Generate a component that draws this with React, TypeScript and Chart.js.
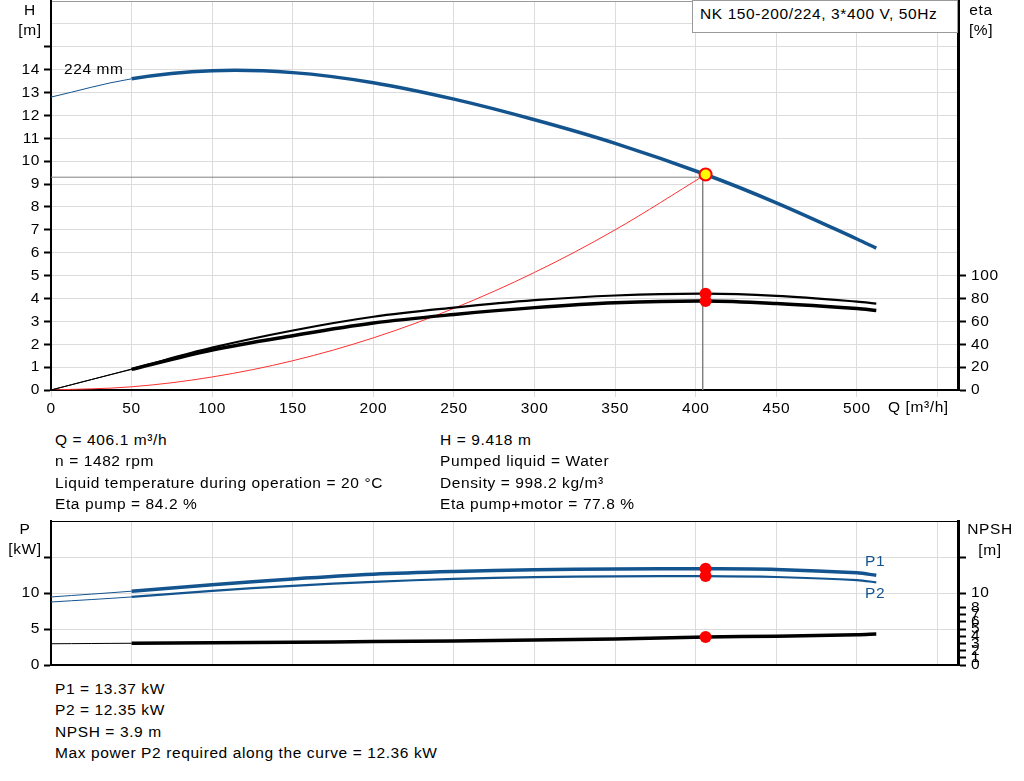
import React, { useEffect, useRef } from 'react';
import { Chart, registerables } from 'chart.js';

Chart.register(...registerables);

const FONT_FAMILY = "'Liberation Sans', Arial, sans-serif";
const BLUE = '#13548f';
const GRID = '#dcdcdc';

// ---- ticks ----
const qTicks = [0, 50, 100, 150, 200, 250, 300, 350, 400, 450, 500, 550];
const hTicks = [0, 1, 2, 3, 4, 5, 6, 7, 8, 9, 10, 11, 12, 13, 14, 15, 16, 17];
const etaTicks = [0, 20, 40, 60, 80, 100];
const pTicks = [0, 5, 10, 15, 20];
const npshTicks = [0, 1, 2, 3, 4, 5, 6, 7, 8, 10, 15];

// ---- data ----
const headQ = [0, 50, 100, 150, 200, 250, 300, 350, 406.1, 450, 500, 512];
const headH = [12.8, 13.6, 13.95, 13.87, 13.43, 12.71, 11.81, 10.78, 9.418, 8.18, 6.6, 6.2];

const etaQ = [0, 50, 100, 150, 200, 250, 300, 350, 406.1, 450, 500, 512];
const etaPump = [0, 18.3, 37, 52, 64, 72, 78.5, 82.6, 84.2, 82.2, 77.3, 75.5];
const etaTotal = [0, 18.0, 35, 47.5, 58.5, 66, 72, 76.2, 77.8, 75.6, 71.2, 69.4];

const sysQ = [0, 50, 100, 150, 200, 250, 300, 350, 406.1];
const sysH = [0, 0.14, 0.57, 1.28, 2.28, 3.57, 5.14, 7.0, 9.418];

const powerQ = [0, 50, 100, 150, 200, 250, 300, 350, 406.1, 450, 500, 512];
const p1Values = [9.45, 10.25, 11.15, 11.95, 12.6, 12.98, 13.22, 13.35, 13.37, 13.28, 12.8, 12.45];
const p2Values = [8.75, 9.45, 10.3, 11.0, 11.55, 11.95, 12.2, 12.32, 12.35, 12.22, 11.8, 11.47];
const npshValues = [2.95, 3.02, 3.08, 3.15, 3.25, 3.35, 3.47, 3.6, 3.88, 4.0, 4.2, 4.3];

const dutyQ = 406.1;
const dutyH = 9.418;
const dutyEtaPump = 84.2;
const dutyEtaTotal = 77.8;
const dutyP1 = 13.37;
const dutyP2 = 12.35;
const dutyNpsh = 3.9;
const crossQ = 404.3;
const crossH = 9.3;

const Q_MAX = 562.7;
const TENSION = 0.35;

const zip = (xs: number[], ys: number[]) => xs.map((x, i) => ({ x, y: ys[i] }));

const tickFont = { family: FONT_FAMILY, size: 15.5 };

const thinUntil50 = (thick: number) => ({
  borderWidth: (ctx: any) => (ctx.p0.parsed.x < 49 ? 1 : thick),
});

const fitTo = (prop: 'width' | 'height', size: number) => (s: any) => {
  s[prop] = size;
  s.paddingTop = 0;
  s.paddingBottom = 0;
  s.paddingLeft = 0;
  s.paddingRight = 0;
};

const curve = (extra: any) => ({
  tension: TENSION,
  pointRadius: 0,
  ...extra,
});

function topConfig(): any {
  return {
    type: 'line',
    data: {
      datasets: [
        {
          data: [{ x: dutyQ, y: dutyH }],
          yAxisID: 'y',
          showLine: false,
          pointRadius: 6,
          pointBackgroundColor: '#ffff00',
          pointBorderColor: '#ff0000',
          pointBorderWidth: 2,
          order: 0,
        },
        {
          data: [
            { x: dutyQ, y: dutyEtaPump },
            { x: dutyQ, y: dutyEtaTotal },
          ],
          yAxisID: 'eta',
          showLine: false,
          pointRadius: 6,
          pointBackgroundColor: '#ff0000',
          pointBorderColor: '#ff0000',
          pointBorderWidth: 0,
          order: 1,
        },
        curve({
          data: zip(headQ, headH),
          yAxisID: 'y',
          borderColor: BLUE,
          borderWidth: 3.5,
          segment: thinUntil50(3.5),
          order: 2,
        }),
        curve({
          data: zip(etaQ, etaPump),
          yAxisID: 'eta',
          borderColor: '#000',
          borderWidth: 2.2,
          segment: thinUntil50(2.2),
          order: 3,
        }),
        curve({
          data: zip(etaQ, etaTotal),
          yAxisID: 'eta',
          borderColor: '#000',
          borderWidth: 3.5,
          segment: thinUntil50(3.5),
          order: 4,
        }),
        curve({
          data: zip(sysQ, sysH),
          yAxisID: 'y',
          borderColor: '#ff3030',
          borderWidth: 1,
          order: 5,
        }),
        {
          data: [
            { x: 0, y: crossH },
            { x: crossQ, y: crossH },
            { x: crossQ, y: 0 },
          ],
          yAxisID: 'y',
          borderColor: '#808080',
          borderWidth: 1,
          tension: 0,
          pointRadius: 0,
          order: 6,
        },
      ],
    },
    options: {
      responsive: false,
      animation: false,
      events: [],
      layout: { autoPadding: false, padding: { top: 1, left: 0, right: 0, bottom: 0 } },
      plugins: { legend: { display: false }, tooltip: { enabled: false } },
      scales: {
        x: {
          type: 'linear',
          min: 0,
          max: Q_MAX,
          afterBuildTicks: (s: any) => {
            s.ticks = qTicks.map((v) => ({ value: v }));
          },
          afterFit: fitTo('height', 41),
          ticks: {
            autoSkip: false,
            maxRotation: 0,
            font: tickFont,
            color: '#000',
            padding: 2,
            callback: (v: any) => (v <= 500 ? String(v) : ''),
          },
          grid: { color: GRID, lineWidth: 1, drawTicks: true, tickLength: 7, tickColor: GRID },
          border: { color: '#000', width: 2 },
        },
        y: {
          type: 'linear',
          position: 'left',
          min: 0,
          max: 17,
          afterBuildTicks: (s: any) => {
            s.ticks = hTicks.map((v) => ({ value: v }));
          },
          afterFit: fitTo('width', 51),
          ticks: {
            autoSkip: false,
            font: tickFont,
            color: '#000',
            padding: 4,
            callback: (v: any) => (v <= 14 ? String(v) : ''),
          },
          grid: {
            color: (ctx: any) => (ctx.tick && ctx.tick.value === 17 ? '#9a9a9a' : GRID),
            lineWidth: 1,
            drawTicks: true,
            tickLength: 7,
            tickColor: (ctx: any) => (ctx.tick && ctx.tick.value > 15 ? 'rgba(0,0,0,0)' : '#000'),
            tickWidth: 2,
          },
          border: { color: '#000', width: 2 },
        },
        eta: {
          type: 'linear',
          position: 'right',
          min: 0,
          max: 340,
          afterBuildTicks: (s: any) => {
            s.ticks = etaTicks.map((v) => ({ value: v }));
          },
          afterFit: fitTo('width', 66),
          ticks: { autoSkip: false, font: tickFont, color: '#000', padding: 5 },
          grid: { drawOnChartArea: false, drawTicks: true, tickLength: 8, tickColor: '#000', tickWidth: 2 },
          border: { color: '#000', width: 3 },
        },
      },
    },
  };
}

function bottomConfig(): any {
  return {
    type: 'line',
    data: {
      datasets: [
        {
          data: [
            { x: dutyQ, y: dutyP1 },
            { x: dutyQ, y: dutyP2 },
          ],
          yAxisID: 'y',
          showLine: false,
          pointRadius: 6,
          pointBackgroundColor: '#ff0000',
          pointBorderWidth: 0,
          order: 0,
        },
        {
          data: [{ x: dutyQ, y: dutyNpsh }],
          yAxisID: 'npsh',
          showLine: false,
          pointRadius: 6,
          pointBackgroundColor: '#ff0000',
          pointBorderWidth: 0,
          order: 1,
        },
        curve({
          data: zip(powerQ, p1Values),
          yAxisID: 'y',
          borderColor: BLUE,
          borderWidth: 3.5,
          segment: thinUntil50(3.5),
          order: 2,
        }),
        curve({
          data: zip(powerQ, p2Values),
          yAxisID: 'y',
          borderColor: BLUE,
          borderWidth: 2.2,
          segment: thinUntil50(2.2),
          order: 3,
        }),
        curve({
          data: zip(powerQ, npshValues),
          yAxisID: 'npsh',
          borderColor: '#000',
          borderWidth: 3.5,
          segment: thinUntil50(3.5),
          order: 4,
        }),
      ],
    },
    options: {
      responsive: false,
      animation: false,
      events: [],
      layout: { autoPadding: false, padding: { top: 21, left: 0, right: 0, bottom: 0 } },
      plugins: { legend: { display: false }, tooltip: { enabled: false } },
      scales: {
        x: {
          type: 'linear',
          min: 0,
          max: Q_MAX,
          afterBuildTicks: (s: any) => {
            s.ticks = qTicks.map((v) => ({ value: v }));
          },
          afterFit: fitTo('height', 15),
          ticks: { display: false },
          grid: { color: GRID, lineWidth: 1, drawTicks: false },
          border: { color: '#000', width: 2 },
        },
        y: {
          type: 'linear',
          position: 'left',
          min: 0,
          max: 20,
          afterBuildTicks: (s: any) => {
            s.ticks = pTicks.map((v) => ({ value: v }));
          },
          afterFit: fitTo('width', 51),
          ticks: {
            autoSkip: false,
            font: tickFont,
            color: '#000',
            padding: 4,
            callback: (v: any) => (v <= 10 ? String(v) : ''),
          },
          grid: {
            color: (ctx: any) => (ctx.tick && ctx.tick.value === 20 ? '#000' : GRID),
            lineWidth: 1,
            drawTicks: true,
            tickLength: 7,
            tickColor: (ctx: any) => (ctx.tick && ctx.tick.value > 15 ? 'rgba(0,0,0,0)' : '#000'),
            tickWidth: 2,
          },
          border: { color: '#000', width: 2 },
        },
        npsh: {
          type: 'linear',
          position: 'right',
          min: 0,
          max: 20,
          afterBuildTicks: (s: any) => {
            s.ticks = npshTicks.map((v) => ({ value: v }));
          },
          afterFit: fitTo('width', 66),
          ticks: {
            autoSkip: false,
            font: tickFont,
            color: '#000',
            padding: 5,
            callback: (v: any) => (v <= 10 ? String(v) : ''),
          },
          grid: { drawOnChartArea: false, drawTicks: true, tickLength: 8, tickColor: '#000', tickWidth: 2 },
          border: { color: '#000', width: 3 },
        },
      },
    },
  };
}

const Label = ({
  x,
  y,
  children,
  color = '#000',
  center = false,
}: {
  x: number;
  y: number;
  children: any;
  color?: string;
  center?: boolean;
}) => (
  <div
    style={{
      position: 'absolute',
      left: x,
      top: y - 9,
      lineHeight: '18px',
      whiteSpace: 'nowrap',
      color,
      transform: center ? 'translateX(-50%)' : undefined,
    }}
  >
    {children}
  </div>
);

const infoLeft = [
  'Q = 406.1 m³/h',
  'n = 1482 rpm',
  'Liquid temperature during operation = 20 °C',
  'Eta pump = 84.2 %',
];
const infoRight = ['H = 9.418 m', 'Pumped liquid = Water', 'Density = 998.2 kg/m³', 'Eta pump+motor = 77.8 %'];
const infoBottom = [
  'P1 = 13.37 kW',
  'P2 = 12.35 kW',
  'NPSH = 3.9 m',
  'Max power P2 required along the curve = 12.36 kW',
];
const infoRowsTop = [440, 461, 483, 504];
const infoRowsBottom = [689, 710, 732, 753];

export default function App() {
  const topRef = useRef<HTMLCanvasElement>(null);
  const botRef = useRef<HTMLCanvasElement>(null);

  useEffect(() => {
    const c1 = new Chart(topRef.current as HTMLCanvasElement, topConfig());
    const c2 = new Chart(botRef.current as HTMLCanvasElement, bottomConfig());
    return () => {
      c1.destroy();
      c2.destroy();
    };
  }, []);

  return (
    <div
      style={{
        position: 'absolute',
        left: 0,
        top: 0,
        width: 1024,
        height: 781,
        background: '#fff',
        fontFamily: FONT_FAMILY,
        fontSize: 15.5,
        letterSpacing: '0.6px',
        color: '#000',
        overflow: 'hidden',
      }}
    >
      <canvas
        ref={topRef}
        width={1024}
        height={431}
        style={{ position: 'absolute', left: 0, top: 0, width: 1024, height: 431 }}
      />
      <canvas
        ref={botRef}
        width={1024}
        height={180}
        style={{ position: 'absolute', left: 0, top: 500, width: 1024, height: 180 }}
      />

      {/* top chart labels */}
      <Label x={30} y={10} center>H</Label>
      <Label x={30} y={30} center>[m]</Label>
      <Label x={981} y={10} center>eta</Label>
      <Label x={981} y={30} center>[%]</Label>
      <Label x={64} y={69}>224 mm</Label>
      <Label x={888} y={407}>Q [m³/h]</Label>
      <div
        style={{
          position: 'absolute',
          left: 692,
          top: 0,
          width: 266,
          height: 33,
          boxSizing: 'border-box',
          border: '1px solid #9a9a9a',
          background: '#fff',
          paddingLeft: 7,
          paddingTop: 4,
          lineHeight: '18px',
          whiteSpace: 'nowrap',
        }}
      >
        NK 150-200/224, 3*400 V, 50Hz
      </div>

      {infoLeft.map((t, i) => (
        <Label key={'l' + i} x={55} y={infoRowsTop[i]}>
          {t}
        </Label>
      ))}
      {infoRight.map((t, i) => (
        <Label key={'r' + i} x={440} y={infoRowsTop[i]}>
          {t}
        </Label>
      ))}

      {/* bottom chart labels */}
      <Label x={25} y={529} center>P</Label>
      <Label x={25} y={549} center>[kW]</Label>
      <Label x={990} y={529} center>NPSH</Label>
      <Label x={990} y={550} center>[m]</Label>
      <Label x={865} y={561} color={BLUE}>P1</Label>
      <Label x={865} y={593} color={BLUE}>P2</Label>

      {infoBottom.map((t, i) => (
        <Label key={'b' + i} x={55} y={infoRowsBottom[i]}>
          {t}
        </Label>
      ))}
    </div>
  );
}
